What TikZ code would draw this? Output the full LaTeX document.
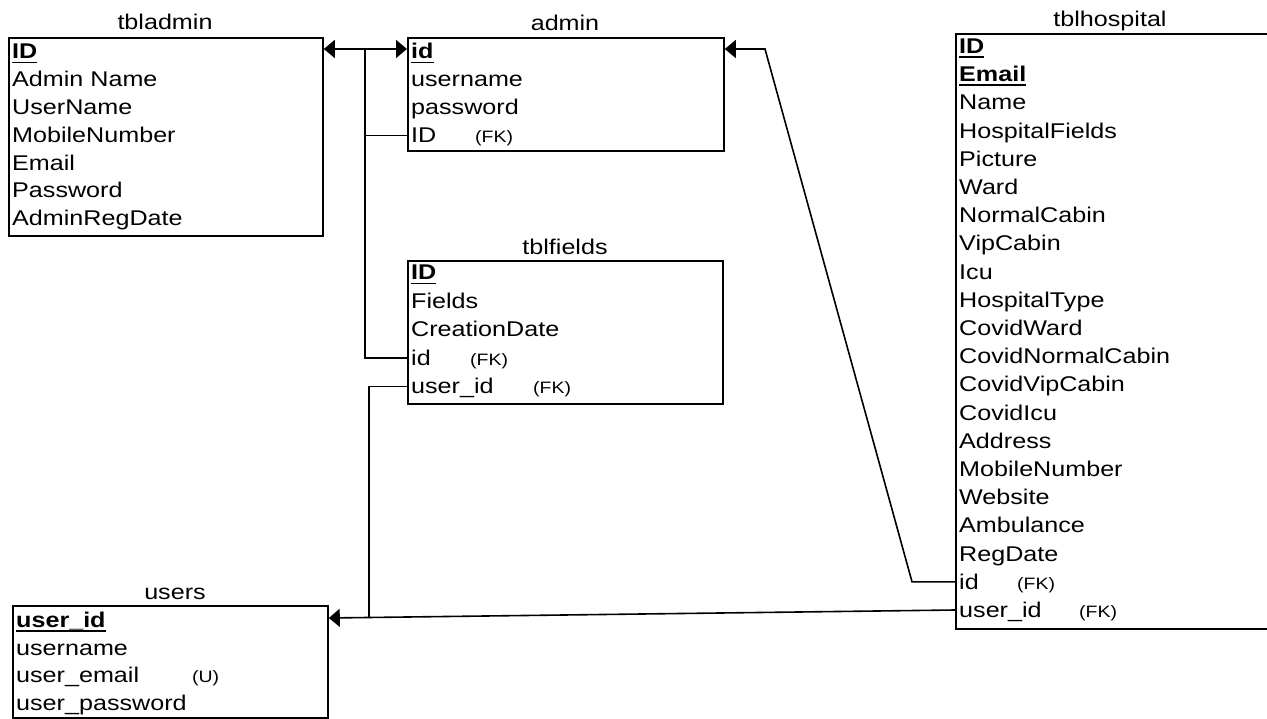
\documentclass[tikz,border=0pt]{standalone}
\usepackage{fontspec}
\setmainfont[FakeStretch=1.18]{Liberation Sans}
\usetikzlibrary{arrows.meta}
\newcommand\pkey[1]{\setbox0\hbox{\bfseries #1}\rlap{\rule[-4.5pt]{\wd0}{1.8pt}}\box0}
\begin{document}
\begin{tikzpicture}[x=1pt,y=-1pt,
  tbl/.style={draw, line width=1.8pt, anchor=north west, inner sep=0pt},
  row/.style={anchor=base west, inner sep=0pt, text height=15pt, text depth=0pt, font=\fontsize{21.3}{21}\selectfont},
  fk/.style={anchor=base west, inner sep=0pt, font=\fontsize{16.5}{16.5}\selectfont},
  ttl/.style={anchor=base, inner sep=0pt, font=\fontsize{21.3}{21}\selectfont},
  conn/.style={line width=1.6pt},
  arr/.style={conn, -{Triangle[length=11pt,width=18pt]}}]
\useasboundingbox (0,0) rectangle (1267,719);
\clip (0,0) rectangle (1267,719);

% tables
\node[tbl, minimum width=314pt, minimum height=198pt] (tbladmin) at (8,37) {};
\node[tbl, minimum width=316pt, minimum height=113pt] (admin) at (407,37) {};
\node[tbl, minimum width=315pt, minimum height=143pt] (tblfields) at (407,260) {};
\node[tbl, minimum width=330pt, minimum height=595pt] (tblhospital) at (955,33) {};
\node[tbl, minimum width=315pt, minimum height=112pt] (users) at (12,605) {};

% titles
\node[ttl] (ttbladmin) at (165,30) {tbladmin};
\node[ttl] (tadmin) at (565,31) {admin};
\node[ttl] (ttblfields) at (565,255) {tblfields};
\node[ttl] (ttblhospital) at (1110,27) {tblhospital};
\node[ttl] (tusers) at (175,599) {users};

% rows
\foreach \t [count=\i from 0] in {\pkey{ID},Admin Name,UserName,MobileNumber,Email,Password,AdminRegDate}
  \node[row] (ta\i) at (12,{59+27.8*\i}) {\t};
\foreach \t [count=\i from 0] in {\pkey{id},username,password,ID}
  \node[row] (a\i) at (411,{59+28*\i}) {\t};
\node[fk] (afk) at (475,143) {(FK)};
\foreach \t [count=\i from 0] in {\pkey{ID},Fields,CreationDate,id,user\_id}
  \node[row] (f\i) at (411,{280+28.5*\i}) {\t};
\node[fk] (ffk1) at (470,365.5) {(FK)};
\node[fk] (ffk2) at (533,394) {(FK)};
\foreach \t [count=\i from 0] in {\pkey{ID},\pkey{Email},Name,HospitalFields,Picture,Ward,NormalCabin,VipCabin,Icu,HospitalType,CovidWard,CovidNormalCabin,CovidVipCabin,CovidIcu,Address,MobileNumber,Website,Ambulance,RegDate,id,user\_id}
  \node[row] (h\i) at (959,{53.5+28.2*\i}) {\t};
\node[fk] (hfk1) at (1017,589.3) {(FK)};
\node[fk] (hfk2) at (1079,617.5) {(FK)};
\foreach \t [count=\i from 0] in {\pkey{user\_id},username,user\_email,user\_password}
  \node[row] (u\i) at (16,{627.5+27.7*\i}) {\t};
\node[fk] (ufk) at (192,682.9) {(U)};

% connectors
\coordinate (j1) at (365,49);
\coordinate (j2) at (369,617.5);
\coordinate (b1) at (765,49);
\draw[arr] (j1) -- (j1 -| tbladmin.east);
\draw[arr] (j1) -- (j1 -| admin.west);
\draw[conn] (admin.west |- a3) -| (j1);
\draw[conn] (tblfields.west |- f3) -| (j1);
\draw[conn] (tblfields.west |- f4) -| (j2);
\draw[arr] (tblhospital.west |- h20) -- ([yshift=-13pt]users.north east);
\draw[arr] (tblhospital.west |- h19) -- ++(-43,0) -- (b1) -- (b1 -| admin.east);
\end{tikzpicture}
\end{document}
